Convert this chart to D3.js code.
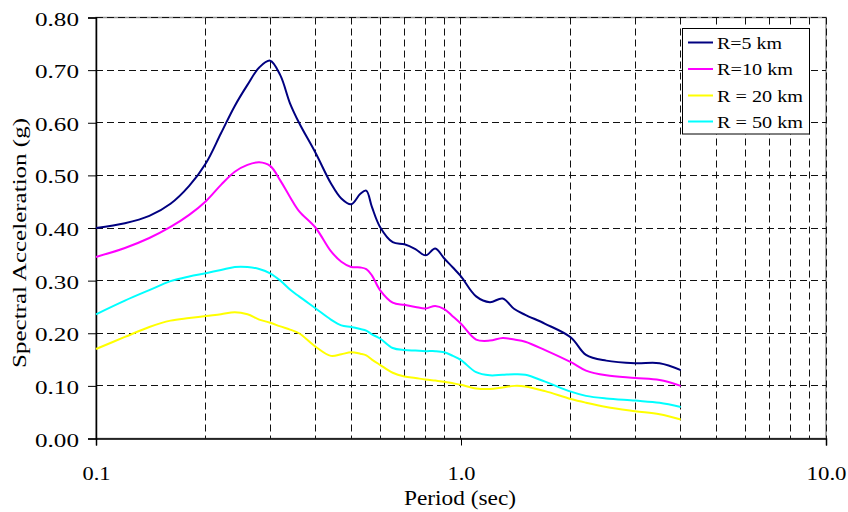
<!DOCTYPE html>
<html>
<head>
<meta charset="utf-8">
<script src="https://cdn.jsdelivr.net/npm/d3@7"></script>
<style>
  body { margin: 0; background: #fff; }
  svg { display: block; }
  svg text { font-family: "Times New Roman", "Liberation Serif", Times, serif; }
  .grid line { stroke: #111; stroke-width: 1; stroke-dasharray: 7,4; }
</style>
</head>
<body>
<div id="chart"></div>
<script>
// ── data ──────────────────────────────────────────────────
const periods = [0.10, 0.12, 0.14, 0.16, 0.18, 0.20, 0.22, 0.24, 0.26, 0.28, 0.30, 0.32, 0.34, 0.36,
                 0.40, 0.44, 0.47, 0.50, 0.53, 0.55, 0.57, 0.60, 0.65, 0.70, 0.75, 0.80, 0.85, 0.90,
                 0.95, 1.00, 1.10, 1.20, 1.30, 1.40, 1.50, 1.70, 2.00, 2.20, 2.50, 3.00, 3.50, 4.00];

const saR5  = [0.400, 0.409, 0.423, 0.446, 0.480, 0.523, 0.580, 0.632, 0.672, 0.705, 0.718, 0.690, 0.637, 0.600,
               0.542, 0.485, 0.456, 0.445, 0.465, 0.471, 0.440, 0.402, 0.373, 0.369, 0.360, 0.348, 0.361, 0.342,
               0.325, 0.308, 0.270, 0.259, 0.266, 0.246, 0.235, 0.218, 0.192, 0.159, 0.148, 0.143, 0.143, 0.130];
const saR10 = [0.345, 0.362, 0.381, 0.402, 0.425, 0.451, 0.482, 0.507, 0.520, 0.525, 0.518, 0.490, 0.459, 0.432,
               0.400, 0.356, 0.336, 0.326, 0.325, 0.322, 0.310, 0.282, 0.258, 0.254, 0.250, 0.247, 0.252, 0.246,
               0.232, 0.218, 0.188, 0.186, 0.191, 0.188, 0.184, 0.168, 0.145, 0.129, 0.120, 0.115, 0.111, 0.100];
const saR20 = [0.170, 0.193, 0.212, 0.224, 0.229, 0.233, 0.236, 0.240, 0.236, 0.226, 0.220, 0.213, 0.207, 0.200,
               0.174, 0.157, 0.160, 0.164, 0.161, 0.158, 0.150, 0.140, 0.125, 0.118, 0.115, 0.112, 0.110, 0.108,
               0.105, 0.102, 0.095, 0.094, 0.097, 0.100, 0.099, 0.090, 0.075, 0.068, 0.060, 0.052, 0.046, 0.036];
const saR50 = [0.236, 0.262, 0.282, 0.299, 0.308, 0.314, 0.320, 0.326, 0.326, 0.322, 0.314, 0.300, 0.283, 0.270,
               0.247, 0.226, 0.215, 0.212, 0.208, 0.205, 0.198, 0.190, 0.172, 0.168, 0.167, 0.166, 0.166, 0.164,
               0.157, 0.149, 0.126, 0.120, 0.121, 0.122, 0.121, 0.108, 0.089, 0.081, 0.076, 0.072, 0.068, 0.060];

const seriesNames  = ['R=5 km', 'R=10 km', 'R = 20 km', 'R = 50 km'];
const seriesValues = [saR5, saR10, saR20, saR50];
const seriesColors = ['#000080', '#ff00ff', '#ffff00', '#00ffff'];

const yTicks      = [0, 0.1, 0.2, 0.3, 0.4, 0.5, 0.6, 0.7, 0.8];
const xMajorTicks = [0.1, 1, 10];
const xMinorTicks = [0.2, 0.3, 0.4, 0.5, 0.6, 0.7, 0.8, 0.9, 2, 3, 4, 5, 6, 7, 8, 9];

// ── layout ───────────────────────────────────────────────
const width  = 848;
const height = 512;
const plot   = { left: 96, right: 826, top: 17.5, bottom: 438.5 };

const svg = d3.select('#chart').append('svg')
  .attr('width', width)
  .attr('height', height);

const x = d3.scaleLog().domain([0.1, 10]).range([plot.left, plot.right]);
const y = d3.scaleLinear().domain([0, 0.8]).range([plot.bottom, plot.top]);
const crisp = v => Math.floor(v) + 0.5;

// plot area border
svg.append('rect')
  .attr('x', plot.left).attr('y', plot.top)
  .attr('width', plot.right - plot.left).attr('height', plot.bottom - plot.top)
  .attr('fill', 'none').attr('stroke', '#909090').attr('stroke-width', 1.5);

// gridlines
const grid = svg.append('g').attr('class', 'grid');
grid.selectAll('line.h')
  .data(yTicks.filter(v => v > 0))
  .join('line')
  .attr('class', 'h')
  .attr('x1', plot.left).attr('x2', plot.right)
  .attr('y1', d => crisp(y(d))).attr('y2', d => crisp(y(d)));
grid.selectAll('line.v')
  .data(xMinorTicks.concat([1, 10]))
  .join('line')
  .attr('class', 'v')
  .attr('x1', d => crisp(x(d))).attr('x2', d => crisp(x(d)))
  .attr('y1', plot.top).attr('y2', plot.bottom);

// axes (d3 puts sans-serif on the group — drop it)
const yAxis = svg.append('g')
  .attr('transform', `translate(${plot.left},0)`)
  .call(d3.axisLeft(y).tickValues(yTicks).tickSize(8).tickPadding(9).tickFormat(d3.format('.2f')))
  .attr('font-family', null).attr('font-size', null);
yAxis.select('.domain').attr('stroke', '#000').attr('stroke-width', 1.5);
yAxis.selectAll('.tick line').attr('stroke', '#000');
yAxis.selectAll('.tick text')
  .attr('font-size', 18).attr('fill', '#000')
  .attr('dy', '0.42em')
  .attr('textLength', 44).attr('lengthAdjust', 'spacingAndGlyphs');

const xAxis = svg.append('g')
  .attr('transform', `translate(0,${plot.bottom})`)
  .call(d3.axisBottom(x).tickValues(xMajorTicks).tickSize(7).tickPadding(21).tickFormat(d3.format('.1f')))
  .attr('font-family', null).attr('font-size', null);
xAxis.select('.domain').attr('stroke', '#000').attr('stroke-width', 1.5);
xAxis.selectAll('.tick line').attr('stroke', '#000');
xAxis.selectAll('.tick text')
  .attr('font-size', 19).attr('fill', '#000')
  .attr('textLength', d => d >= 10 ? 40 : 28).attr('lengthAdjust', 'spacingAndGlyphs');

// axis titles
svg.append('text')
  .attr('x', 460).attr('y', 505)
  .attr('text-anchor', 'middle')
  .attr('font-size', 20)
  .attr('textLength', 112).attr('lengthAdjust', 'spacingAndGlyphs')
  .text('Period (sec)');

svg.append('text')
  .attr('transform', 'translate(25.5,243) rotate(-90)')
  .attr('text-anchor', 'middle')
  .attr('font-size', 18)
  .attr('textLength', 250).attr('lengthAdjust', 'spacingAndGlyphs')
  .text('Spectral Acceleration (g)');

// curves
const line = d3.line()
  .x(d => x(d[0]))
  .y(d => y(d[1]))
  .curve(d3.curveCatmullRom.alpha(0.5));

svg.append('g').selectAll('path')
  .data(seriesValues.map((vals, i) => ({ color: seriesColors[i], pts: periods.map((p, j) => [p, vals[j]]) })))
  .join('path')
  .attr('d', d => line(d.pts))
  .attr('fill', 'none')
  .attr('stroke', d => d.color)
  .attr('stroke-width', 2);

// legend
const legend = svg.append('g');
legend.append('rect')
  .attr('x', 682.5).attr('y', 28.5).attr('width', 127).attr('height', 105.5)
  .attr('fill', '#fff').attr('stroke', '#000').attr('stroke-width', 1);

const legendRowY = [42.5, 69, 95.5, 121.5];
const legendTextW = [65, 76, 86, 86];
const rows = legend.selectAll('g.row')
  .data(seriesNames)
  .join('g')
  .attr('class', 'row')
  .attr('transform', (d, i) => `translate(0,${legendRowY[i]})`);
rows.append('line')
  .attr('x1', 688).attr('x2', 713)
  .attr('stroke', (d, i) => seriesColors[i])
  .attr('stroke-width', 2);
rows.append('text')
  .attr('x', 717).attr('y', 6)
  .attr('font-size', 16)
  .attr('textLength', (d, i) => legendTextW[i]).attr('lengthAdjust', 'spacingAndGlyphs')
  .text(d => d);
</script>
</body>
</html>
